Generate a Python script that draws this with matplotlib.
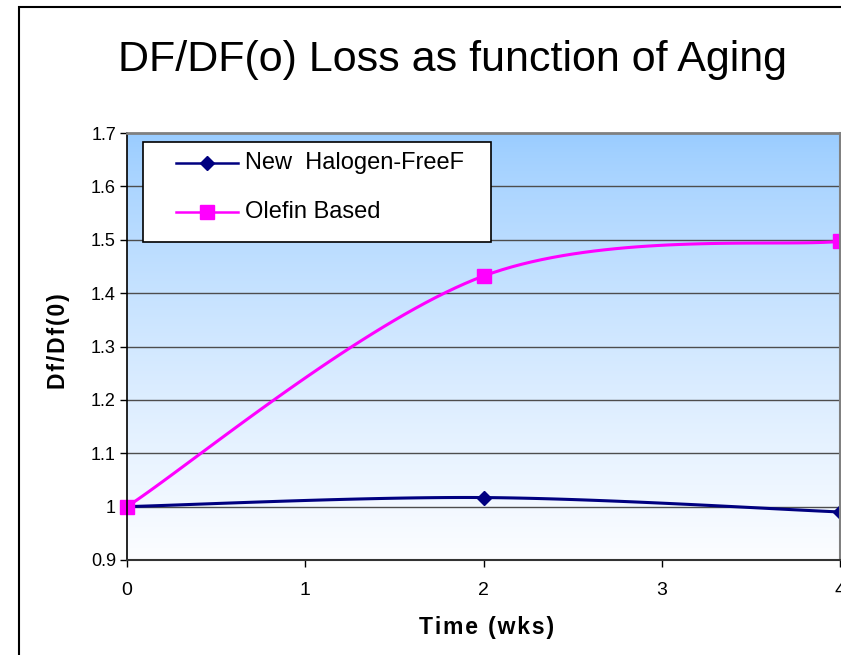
import numpy as np
import matplotlib
matplotlib.use("Agg")
import matplotlib.pyplot as plt
from matplotlib.patches import Rectangle
from matplotlib.lines import Line2D

# ---- data ----
weeks = [0, 2, 4]
halogen_free = [1.0, 1.017, 0.99]
olefin = [1.0, 1.432, 1.497]
series_names = ["New  Halogen-FreeF", "Olefin Based"]
yticks = [0.9, 1.0, 1.1, 1.2, 1.3, 1.4, 1.5, 1.6, 1.7]
xticks = [0, 1, 2, 3, 4]
title = "DF/DF(o) Loss as function of Aging"
xlabel = "Time (wks)"
ylabel = "Df/Df(0)"

plt.rcParams['font.family'] = ['Liberation Sans', 'DejaVu Sans']

W, H = 841, 655
fig = plt.figure(figsize=(W / 100, H / 100), dpi=100)
fig.patch.set_facecolor('white')


def px(x0, y0, x1, y1):
    return [x0 / W, 1 - y1 / H, (x1 - x0) / W, (y1 - y0) / H]


ax = fig.add_axes(px(127, 133, 840, 560))


def excel_smooth(xs, ys, n=40):
    """Excel-style smoothed line (cubic Bezier, Catmull-Rom tangents)."""
    P = np.column_stack([xs, ys]).astype(float)
    out = []
    for i in range(len(P) - 1):
        p0 = P[i - 1] if i > 0 else P[i]
        p1, p2 = P[i], P[i + 1]
        p3 = P[i + 2] if i + 2 < len(P) else P[i + 1]
        c1 = p1 + (p2 - p0) / 6.0
        c2 = p2 - (p3 - p1) / 6.0
        t = np.linspace(0, 1, n)[:, None]
        seg = ((1 - t) ** 3) * p1 + 3 * ((1 - t) ** 2) * t * c1 + 3 * (1 - t) * t ** 2 * c2 + t ** 3 * p2
        out.append(seg if i == 0 else seg[1:])
    s = np.vstack(out)
    return s[:, 0], s[:, 1]


# gradient background
top = np.array([153, 204, 255]) / 255.0
bot = np.array([252, 253, 255]) / 255.0
f = np.linspace(0, 1, 256) ** 0.8
grad = (top[None, :] * (1 - f[:, None]) + bot[None, :] * f[:, None])[:, None, :]
ax.imshow(grad, extent=[0, 1, 0, 1], transform=ax.transAxes, aspect='auto',
          zorder=0, interpolation='bilinear')

ax.set_xlim(0, 4)
ax.set_ylim(0.9, 1.7)

for yv in yticks[1:-1]:
    ax.axhline(yv, color='#4d4d4d', lw=1.0, zorder=1)

navy = '#000080'
pink = '#FF00FF'
sx, sy = excel_smooth(weeks, halogen_free)
ax.plot(sx, sy, color=navy, lw=2.2, zorder=3, solid_capstyle='round')
ax.plot(weeks, halogen_free, ls='none', marker='D', ms=7.5, color=navy,
        zorder=4, clip_on=False)
sx, sy = excel_smooth(weeks, olefin)
ax.plot(sx, sy, color=pink, lw=2.2, zorder=5, solid_capstyle='round')
ax.plot(weeks, olefin, ls='none', marker='s', ms=9.5, color=pink,
        zorder=6, clip_on=False)

ax.set_xticks(xticks)
ax.set_xticklabels([str(v) for v in xticks], fontsize=14)
ax.set_yticks(yticks)
ax.set_yticklabels(['%g' % v for v in yticks], fontsize=13)
ax.tick_params(axis='x', direction='out', length=5, width=1, pad=11, colors='black')
ax.tick_params(axis='y', direction='out', length=5, width=1, pad=3, colors='black')

ax.spines['top'].set_color('#808080')
ax.spines['top'].set_linewidth(2)
ax.spines['right'].set_color('#808080')
ax.spines['right'].set_linewidth(1.5)
ax.spines['bottom'].set_color('#333333')
ax.spines['bottom'].set_linewidth(1.5)
ax.spines['left'].set_color('black')
ax.spines['left'].set_linewidth(1.2)
for s in ax.spines.values():
    s.set_zorder(7)

# legend (manual, Excel style)
lx0, ly0, lx1, ly1 = 143, 142, 491, 242


def ax_xy(xp, yp):
    return ((xp - 127) / (840 - 127), (560 - yp) / (560 - 133))


bx, by = ax_xy(lx0, ly1)
bx1, by1 = ax_xy(lx1, ly0)
ax.add_patch(Rectangle((bx, by), bx1 - bx, by1 - by, transform=ax.transAxes,
                       facecolor='white', edgecolor='black', lw=1.2, zorder=8))
for yy, col, mk, ms, name in [(163, navy, 'D', 7.5, series_names[0]),
                              (212, pink, 's', 9.5, series_names[1])]:
    a, b = ax_xy(176, yy)
    c, _ = ax_xy(238, yy)
    m, _ = ax_xy(207, yy)
    ax.add_line(Line2D([a, c], [b, b], transform=ax.transAxes, color=col,
                       lw=1.8, zorder=9))
    ax.add_line(Line2D([m], [b], transform=ax.transAxes, color=col, marker=mk,
                       ms=ms, ls='none', zorder=10))
    tx, _ = ax_xy(245, yy)
    ax.text(tx, b, name, transform=ax.transAxes, fontsize=17, va='center',
            ha='left', zorder=10)

# titles
fig.text(453 / W, 1 - 71 / H, title, fontsize=31, ha='center', va='baseline')


def spaced(s):
    return '\u200a'.join(s)


fig.text(487 / W, 1 - 634 / H, spaced(xlabel), fontsize=16.5, fontweight='bold',
         ha='center', va='baseline')
fig.text(58 / W, 1 - 341 / H, spaced(ylabel), fontsize=16.5, fontweight='bold',
         ha='center', va='center', rotation=90)

# outer chart border
fig.add_artist(Rectangle((19 / W, -0.1), 2.0, 1 - 7 / H + 0.1, transform=fig.transFigure,
                         facecolor='none', edgecolor='black', lw=1.5, clip_on=False))

fig.savefig('out.png', dpi=100)
